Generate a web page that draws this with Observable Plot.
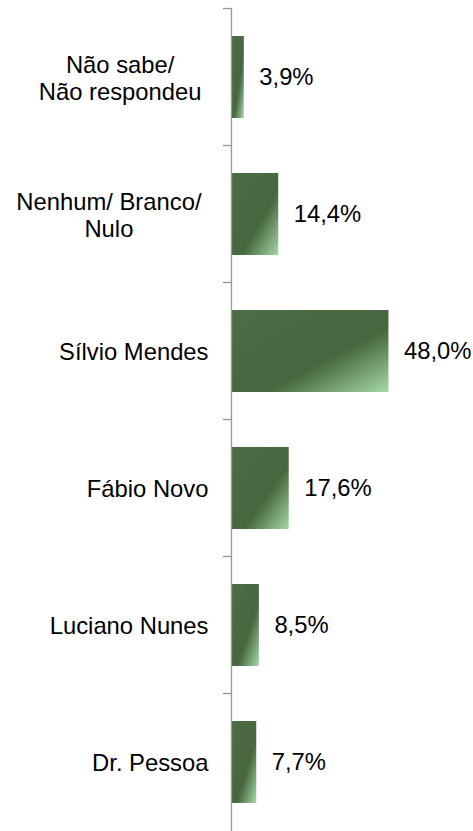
<!DOCTYPE html>
<html>
<head>
<meta charset="utf-8">
<script src="https://cdn.jsdelivr.net/npm/d3@7"></script>
<script src="https://cdn.jsdelivr.net/npm/@observablehq/plot@0.6"></script>
<style>
  html, body { margin: 0; padding: 0; background: #fff; }
  #chart svg { display: block; }
</style>
</head>
<body>
<div id="chart"></div>
<script>
const categories = ["Não sabe/\nNão respondeu", "Nenhum/ Branco/\nNulo", "Sílvio Mendes", "Fábio Novo", "Luciano Nunes", "Dr. Pessoa"];
const values = [3.9, 14.4, 48.0, 17.6, 8.5, 7.7];

const data = categories.map((c, i) => ({cat: c, value: values[i]}));
const fmt = v => v.toFixed(1).replace(".", ",") + "%";
const axisColor = "#8d97a6";

// category boundary ticks drawn from the band scale
function boundaryTicks(index, scales, values, dimensions) {
  const y = scales.y;
  const s = scales.scales.y;
  const x0 = scales.x(0);
  const g = d3.create("svg:g").attr("stroke", axisColor).attr("stroke-width", 1.3);
  const half = (s.step - s.bandwidth) / 2;
  for (const c of categories) {
    const yy = y(c) - half;
    g.append("line").attr("x1", x0 - 8).attr("x2", x0).attr("y1", yy).attr("y2", yy);
  }
  return g.node();
}

const chart = Plot.plot({
  width: 473,
  height: 831,
  marginLeft: 231,
  marginRight: 78,
  marginTop: 8,
  marginBottom: 0,
  style: {fontFamily: "'Liberation Sans', Arial, sans-serif", fontSize: "23.8px", color: "#000", background: "#fff"},
  x: {domain: [0, 50], axis: null},
  y: {domain: categories, paddingInner: 0.4, paddingOuter: 0.2, axis: null},
  marks: [
    Plot.barX(data, {x: "value", y: "cat", fill: "url(#barGrad)"}),
    Plot.ruleX([0], {stroke: axisColor, strokeWidth: 1.3}),
    boundaryTicks,
    Plot.text(data, {x: "value", y: "cat", text: d => fmt(d.value), textAnchor: "start", dx: 15, fontSize: 23.8, fill: "#000"}),
    Plot.text(data, {x: 0, y: "cat", text: "cat", textAnchor: "end", dx: -23, lineHeight: 1.16, fontSize: 23.8, fill: "#000", className: "catlab"})
  ]
});

// gradient definition
const defs = d3.select(chart).insert("defs", ":first-child");
const grad = defs.append("linearGradient").attr("id", "barGrad")
  .attr("x1", 0).attr("y1", 0).attr("x2", 1).attr("y2", 1);
[["0", "#4d6d47"], ["0.6", "#48663f"], ["0.66", "#52744c"], ["1", "#a6d9a6"]].forEach(([o, c]) =>
  grad.append("stop").attr("offset", o).attr("stop-color", c));

document.getElementById("chart").appendChild(chart);

// center multi-line category labels within their box
d3.select(chart).selectAll("g.catlab text").each(function() {
  const tspans = this.querySelectorAll("tspan");
  if (tspans.length > 1) {
    let maxW = 0;
    tspans.forEach(t => { maxW = Math.max(maxW, t.getComputedTextLength()); });
    this.setAttribute("text-anchor", "middle");
    tspans.forEach(t => t.setAttribute("x", -maxW / 2 - 7));
  }
});
</script>
</body>
</html>
